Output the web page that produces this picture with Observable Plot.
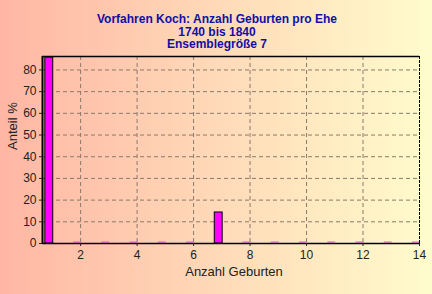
<!DOCTYPE html>
<html>
<head>
<meta charset="utf-8">
<script src="https://cdn.jsdelivr.net/npm/d3@7"></script>
<script src="https://cdn.jsdelivr.net/npm/@observablehq/plot@0.6"></script>
<style>
  html, body { margin: 0; padding: 0; }
  body {
    width: 432px; height: 294px; overflow: hidden;
    background: linear-gradient(to right, #ffb6a4 0%, #ffd6b6 45%, #fffccc 100%);
  }
  svg { display: block; background: transparent !important; }
</style>
</head>
<body>
<div id="chart"></div>
<script>
// Data
const births = [1, 2, 3, 4, 5, 6, 7, 8, 9, 10, 11, 12, 13, 14];
const share  = [85.7, 0, 0, 0, 0, 0, 14.3, 0, 0, 0, 0, 0, 0, 0];
const titleLines = ["Vorfahren Koch: Anzahl Geburten pro Ehe", "1740 bis 1840", "Ensemblegröße 7"];
const xTicks = [2, 4, 6, 8, 10, 12, 14];
const yTicks = [0, 10, 20, 30, 40, 50, 60, 70, 80];
const xLabel = "Anzahl Geburten";
const yLabel = "Anteil %";

const data = births.map((b, i) => ({b, v: share[i]}));
const xDomain = [0.65, 14];
const yDomain = [0, 86.2];
const titleOffsets = [-37, -24.5, -12];

const plot = Plot.plot({
  width: 432,
  height: 294,
  marginLeft: 42,
  marginRight: 13,
  marginTop: 56,
  marginBottom: 51,
  style: {fontFamily: "Arial, 'Liberation Sans', sans-serif", fontSize: "12px", color: "#222", background: "transparent"},
  x: {domain: xDomain, ticks: xTicks, tickSize: 3, tickPadding: 4, label: null},
  y: {domain: yDomain, ticks: yTicks, tickSize: 3, tickPadding: 3, label: null},
  marks: [
    Plot.gridX(xTicks.filter(t => t < 14), {stroke: "#8a7a6a", strokeOpacity: 1, strokeDasharray: "4,3"}),
    Plot.gridY(yTicks.filter(t => t > 0), {stroke: "#8a7a6a", strokeOpacity: 1, strokeDasharray: "4,3"}),
    Plot.rectY(data.filter(d => d.v > 0), {x1: d => d.b - 0.25, x2: d => d.b + 0.03, y1: 0, y2: "v", fill: "#ff00ff", stroke: "#000", strokeWidth: 1}),
    Plot.ruleY(data.filter(d => d.v === 0), {x1: d => d.b - 0.25, x2: d => d.b + 0.03, y: 0, dy: -1.5, stroke: "#ff40ff", strokeWidth: 1}),
    Plot.ruleY([0], {stroke: "#000", strokeWidth: 1.5}),
    Plot.ruleY([yDomain[1]], {stroke: "#000", strokeWidth: 1.5}),
    Plot.ruleX([xDomain[0]], {stroke: "#000", strokeWidth: 2}),
    Plot.ruleX([xDomain[1]], {stroke: "#000", strokeWidth: 1, strokeDasharray: "3,1"}),
    Plot.axisX({ticks: xTicks, tickSize: 3, tickPadding: 4, label: null, fill: "#222", fontSize: 12}),
    Plot.axisY({ticks: yTicks, tickSize: 3, tickPadding: 3, label: null, fill: "#222", fontSize: 12}),
    Plot.text([xLabel], {frameAnchor: "bottom", dy: 32, fontSize: 13, fill: "#222", dx: 3}),
    Plot.text([yLabel], {frameAnchor: "left", dx: -30, rotate: -90, fontSize: 13, fill: "#222"}),
    ...titleLines.map((t, i) => Plot.text([t], {frameAnchor: "top", lineAnchor: "middle", dy: titleOffsets[i], dx: -14, fontWeight: "bold", fontSize: 12, fill: "#1010a8"}))
  ]
});

document.getElementById("chart").appendChild(plot);
</script>
</body>
</html>
